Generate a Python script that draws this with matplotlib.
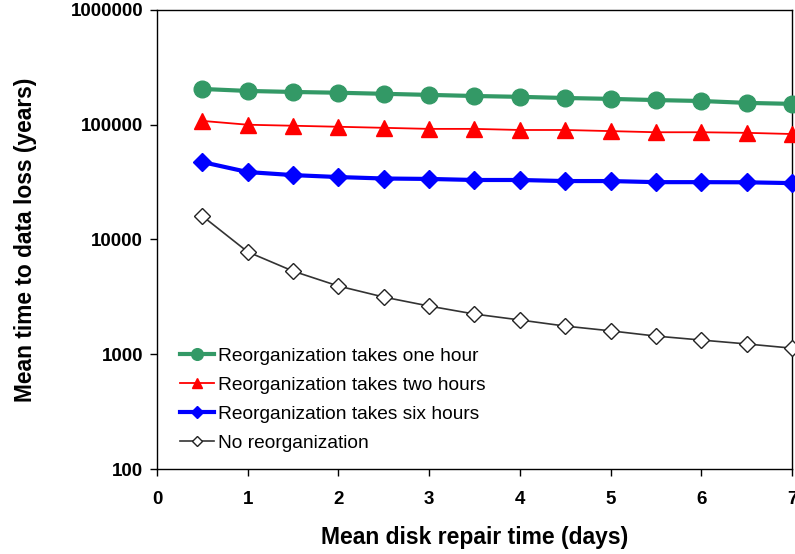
import matplotlib.pyplot as plt

# Mean disk repair time (days)
repair_days = [0.5, 1, 1.5, 2, 2.5, 3, 3.5, 4, 4.5, 5, 5.5, 6, 6.5, 7]

# Mean time to data loss (years)
one_hour = [205000, 197000, 193000, 190000, 186000, 182000, 178000,
            175000, 171000, 168000, 164000, 161000, 155000, 152000]
two_hours = [108000, 100000, 98000, 96000, 94000, 92000, 92000,
             90000, 90000, 88000, 86000, 86000, 85000, 83000]
six_hours = [47300, 38700, 36400, 35000, 34000, 33700, 33000,
             33000, 32300, 32300, 31600, 31600, 31500, 31000]
no_reorg = [16000, 7800, 5300, 3930, 3150, 2630, 2240,
            1990, 1760, 1600, 1440, 1330, 1230, 1130]

labels = ["Reorganization takes one hour", "Reorganization takes two hours",
          "Reorganization takes six hours", "No reorganization"]
y_ticks = [100, 1000, 10000, 100000, 1000000]

plt.rcParams["font.family"] = ["Liberation Sans", "DejaVu Sans"]

fig = plt.figure(figsize=(7.95, 5.54), dpi=100)
ax = fig.add_axes([0.1975, 0.1534, 0.7987, 0.8286])

ax.plot(repair_days, one_hour, color="#339966", lw=3, marker="o", ms=12,
        label=labels[0], clip_on=False, zorder=4)
ax.plot(repair_days, two_hours, color="#ff0000", lw=1.3, marker="^", ms=11,
        label=labels[1], clip_on=False, zorder=4)
ax.plot(repair_days, six_hours, color="#0000ff", lw=3, marker="D", ms=9,
        label=labels[2], clip_on=False, zorder=4)
ax.plot(repair_days, no_reorg, color="#333333", lw=1.2, marker="D", ms=8,
        mfc="white", mec="#222222", label=labels[3], clip_on=False, zorder=4)

ax.set_yscale("log")
ax.set_ylim(100, 1000000)
ax.set_xlim(0, 7)
ax.set_yticks(y_ticks)
ax.set_yticklabels([str(v) for v in y_ticks])
ax.minorticks_off()
ax.set_xticks(range(8))
ax.tick_params(direction="out", length=5, width=1, labelsize=13.5)
ax.tick_params(axis="x", pad=11)
ax.tick_params(axis="y", pad=5)
for lbl in ax.get_xticklabels() + ax.get_yticklabels():
    lbl.set_fontweight("bold")
for s in ax.spines.values():
    s.set_linewidth(1)

ax.set_xlabel("Mean disk repair time (days)", fontsize=16.5, fontweight="bold",
              labelpad=13)
ax.set_ylabel("Mean time to data loss (years)", fontsize=16.4, fontweight="bold",
              labelpad=24)

ax.legend(loc="lower left", bbox_to_anchor=(0.009, 0.0), frameon=False,
          fontsize=13.8, handlelength=1.8, handletextpad=0.2,
          labelspacing=0.6, markerscale=0.7, borderaxespad=0.5)

fig.savefig("out.png", dpi=100)
